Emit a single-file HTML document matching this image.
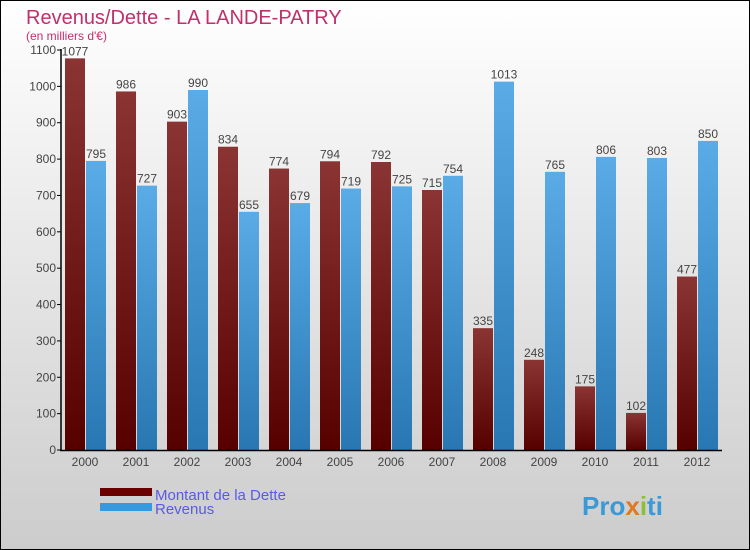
<!DOCTYPE html>
<html><head><meta charset="utf-8"><style>
body{margin:0;}
#c{width:750px;height:550px;position:relative;overflow:hidden;font-family:"Liberation Sans",sans-serif;}
</style></head><body>
<div id="c">
<svg id="s" width="750" height="550" xmlns="http://www.w3.org/2000/svg">
<defs>
<linearGradient id="bg" x1="0" y1="0" x2="0" y2="1"><stop offset="0" stop-color="#ffffff"/><stop offset="1" stop-color="#cccccc"/></linearGradient>
<linearGradient id="gd" x1="0" y1="0" x2="0" y2="1"><stop offset="0" stop-color="#8a3434"/><stop offset="1" stop-color="#560000"/></linearGradient>
<linearGradient id="gr" x1="0" y1="0" x2="0" y2="1"><stop offset="0" stop-color="#5aabe6"/><stop offset="1" stop-color="#2877b2"/></linearGradient>
</defs>
<rect x="0.5" y="0.5" width="749" height="549" fill="url(#bg)" stroke="#000"/>
<text x="26" y="24" font-size="20" fill="#c0306a">Revenus/Dette - LA LANDE-PATRY</text>
<text x="26" y="40" font-size="12" fill="#c0306a">(en milliers d'€)</text>
<g id="plot"></g>
<rect x="100" y="488" width="52" height="8" fill="#6a0000"/>
<text x="155" y="500" font-size="15" fill="#5a5ae6">Montant de la Dette</text>
<rect x="100" y="503" width="52" height="8" fill="#3399e0"/>
<text x="155" y="514" font-size="15" fill="#5a5ae6">Revenus</text>
<text x="582" y="515" font-size="26" font-weight="bold" fill="#3a9ad8">Pro<tspan fill="#e07a20">x</tspan><tspan fill="#8cc030">i</tspan>ti</text>
</svg>
</div>
<script>
const years=["2000","2001","2002","2003","2004","2005","2006","2007","2008","2009","2010","2011","2012"];
const dette=[1077,986,903,834,774,794,792,715,335,248,175,102,477];
const revenus=[795,727,990,655,679,719,725,754,1013,765,806,803,850];
const yTicks=[0,100,200,300,400,500,600,700,800,900,1000,1100];
const NS="http://www.w3.org/2000/svg";
const g=document.getElementById('plot');
const x0=59.5,bw=51,y0=450,yMax=1100,ph=400;
function yS(v){return y0-v/yMax*ph;}
function xS(i){return x0+i*bw;}
function mk(t,a){const e=document.createElementNS(NS,t);for(const k in a)e.setAttribute(k,a[k]);g.appendChild(e);return e;}
yTicks.forEach(v=>{
  const l=mk('line',{x1:57,x2:61,y1:yS(v),y2:yS(v),stroke:'#000'});
  
  
  const t=mk('text',{x:56,y:yS(v)+4,'font-size':12,'text-anchor':'end',fill:'#444'});
  t.textContent=v;
  
  
});
years.forEach((y,i)=>{
  const bx=xS(i);
  const d=mk('rect',{x:bx+5.5,y:yS(dette[i]),width:20,height:y0-yS(dette[i]),fill:'url(#gd)'});
  
  
  const r=mk('rect',{x:bx+26.5,y:yS(revenus[i]),width:20,height:y0-yS(revenus[i]),fill:'url(#gr)'});
  
  
  const dl=mk('text',{x:bx+15.5,y:yS(dette[i])-3,'font-size':12,'text-anchor':'middle',fill:'#444'});
  dl.textContent=dette[i];
  
  
  const rl=mk('text',{x:bx+36.5,y:yS(revenus[i])-3,'font-size':12,'text-anchor':'middle',fill:'#444'});
  rl.textContent=revenus[i];
  
  
  const xl=mk('text',{x:bx+25.5,y:466,'font-size':12,'text-anchor':'middle',fill:'#444'});
  xl.textContent=y;
  
  
});
const ya=mk('line',{x1:61,x2:61,y1:49,y2:450.5,stroke:'#000','stroke-width':1.5});


const xa=mk('line',{x1:60,x2:722,y1:450.5,y2:450.5,stroke:'#000','stroke-width':1.5});


</script>
</body></html>
